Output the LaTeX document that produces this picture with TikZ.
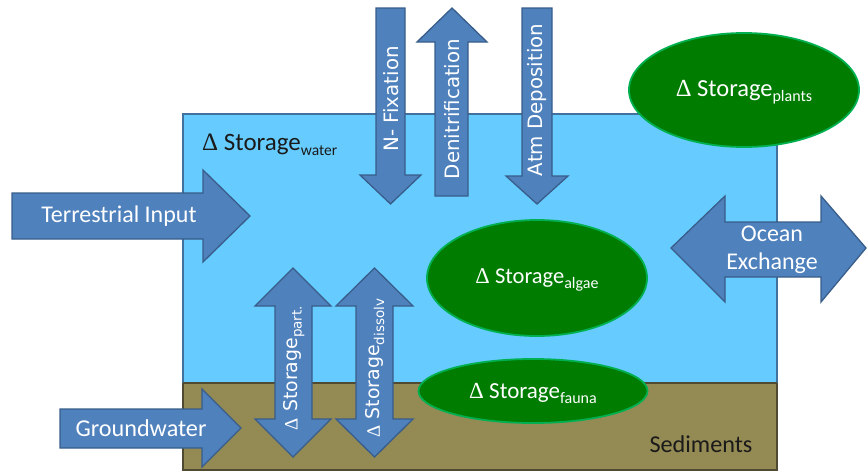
\documentclass[tikz,border=0pt]{standalone}
\usepackage{fontspec}
\setmainfont{Carlito}
\newfontfamily\dvs{DejaVu Sans}
\newfontfamily\lserif{Liberation Serif}
\newcommand\dlt{{\lserif Δ}}
\newcommand\stor[3]{{\fontsize{#1}{#1}\selectfont\dlt\ Storage\raisebox{-0.22em}{\fontsize{#2}{#2}\selectfont #3}}}
\newcommand\vstor[3]{{\dvs\fontsize{#1}{#1}\selectfont\dlt\ Storage\raisebox{-0.22em}{\fontsize{#2}{#2}\selectfont #3}}}
\definecolor{water}{HTML}{66CCFF}
\definecolor{boxline}{HTML}{41719C}
\definecolor{sed}{HTML}{948A54}
\definecolor{sedline}{HTML}{4F4A30}
\definecolor{arrfill}{HTML}{4F81BD}
\definecolor{arrline}{HTML}{385D8A}
\definecolor{ellfill}{HTML}{007C00}
\definecolor{ellline}{HTML}{00B050}
\definecolor{darktext}{HTML}{1A1A1A}
\tikzset{
  blockarrow/.style={fill=arrfill,draw=arrline,line width=1.3pt,line join=miter},
  store/.style={ellipse,fill=ellfill,draw=ellline,line width=1.8pt,inner sep=0pt},
  wlabel/.style={text=white,inner sep=0pt},
  vlabel/.style={text=white,inner sep=0pt,rotate=90,font=\dvs\fontsize{19.8}{20}\selectfont},
  dlabel/.style={text=darktext,inner sep=0pt}
}
\usetikzlibrary{shapes.geometric}
\begin{document}
\begin{tikzpicture}[x=1pt,y=-1pt]
\useasboundingbox (0,0) rectangle (867,472);
% water and sediment
\fill[water] (183,114) rectangle (777,383);
\draw[boxline,line width=1.6pt] (183,383) -- (183,114) -- (777,114) -- (777,383);
\fill[sed] (183,383) rectangle (777,470);
\draw[sedline,line width=1.6pt] (183,383) -- (777,383);
\draw[sedline,line width=1.6pt] (183,383) -- (183,470) -- (777,470) -- (777,383);
\node[dlabel,anchor=base west] (wl) at (202,150) {\stor{25}{15.5}{water}};
\node[dlabel,anchor=base,font=\fontsize{24.2}{24}\selectfont] (sedl) at (701,452) {Sediments};
% terrestrial input
\draw[blockarrow] (12,193) -- (203,193) -- (203,170) -- (250,216) -- (203,262) -- (203,239) -- (12,239) -- cycle;
\node[wlabel,font=\fontsize{24}{24}\selectfont] (ti) at (119,216) {Terrestrial Input};
% groundwater
\draw[blockarrow] (60,409) -- (202,409) -- (202,389) -- (241,428) -- (202,467) -- (202,448) -- (60,448) -- cycle;
\node[wlabel,font=\fontsize{24.2}{24}\selectfont] (gw) at (141,428) {Groundwater};
% N fixation
\draw[blockarrow] (376,8) -- (405,8) -- (405,175) -- (421,175) -- (390.5,204) -- (360,175) -- (376,175) -- cycle;
\node[vlabel] (nf) at (391,99) {N- Fixation};
% denitrification
\draw[blockarrow] (435,196) -- (435,42) -- (417,42) -- (452,8) -- (487,42) -- (468,42) -- (468,196) -- cycle;
\node[vlabel] (dn) at (452,109) {Denitrification};
% atm deposition
\draw[blockarrow] (522,8) -- (552,8) -- (552,176) -- (568,176) -- (537,204) -- (506,176) -- (522,176) -- cycle;
\node[vlabel] (ad) at (537,100) {Atm Deposition};
% storage part
\draw[blockarrow] (293,268) -- (331,306) -- (312,306) -- (312,419) -- (331,419) -- (293,457) -- (255,419) -- (275,419) -- (275,306) -- (255,306) -- cycle;
\node[wlabel,rotate=90] (sp) at (294,368) {\vstor{18.9}{13.5}{part.}};
% storage dissolv
\draw[blockarrow] (374.5,268) -- (413,306) -- (393,306) -- (393,419) -- (413,419) -- (374.5,457) -- (336,419) -- (356,419) -- (356,306) -- (336,306) -- cycle;
\node[wlabel,rotate=90] (sd) at (375,368) {\vstor{18.9}{13.5}{dissolv}};
% ocean exchange
\draw[blockarrow] (671,248) -- (725,196) -- (725,222) -- (821,222) -- (821,196) -- (866,248) -- (821,302) -- (821,277) -- (725,277) -- (725,302) -- cycle;
\node[wlabel,align=center,font=\fontsize{24}{28}\selectfont] (oe) at (772,250) {Ocean\\Exchange};
% storages
\node[store,minimum width=230pt,minimum height=114pt] (pl) at (744,90) {};
\node[wlabel] at (744,92) {\stor{24.5}{16}{plants}};
\node[store,minimum width=220pt,minimum height=116pt] (al) at (537,278) {};
\node[wlabel] at (537,280) {\stor{22.5}{16}{algae}};
\node[store,minimum width=229pt,minimum height=64pt] (fa) at (533,391) {};
\node[wlabel] at (533,393) {\stor{23}{16}{fauna}};
\end{tikzpicture}
\end{document}
